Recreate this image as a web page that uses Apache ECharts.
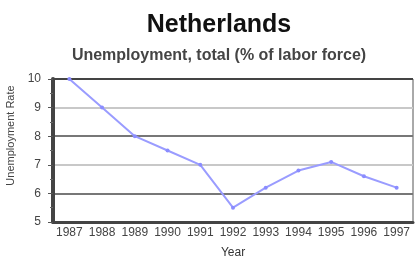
<!DOCTYPE html>
<html>
<head>
<meta charset="utf-8">
<script src="https://cdn.jsdelivr.net/npm/echarts@6/dist/echarts.min.js"></script>
<style>
  html, body { margin: 0; padding: 0; background: #fff; }
  #chart { width: 415px; height: 256px; }
</style>
</head>
<body>
<div id="chart"></div>
<script>
  // ── Data ──
  var years = ['1987', '1988', '1989', '1990', '1991', '1992', '1993', '1994', '1995', '1996', '1997'];
  var unemployment = [10.0, 9.0, 8.0, 7.5, 7.0, 5.5, 6.2, 6.8, 7.1, 6.6, 6.2];
  var yTicks = [5, 6, 7, 8, 9, 10];

  var FONT = 'Liberation Sans, Arial, sans-serif';
  var chart = echarts.init(document.getElementById('chart'), null, { renderer: 'canvas' });

  chart.setOption({
    animation: false,
    textStyle: { fontFamily: FONT },
    title: [
      { text: 'Netherlands', left: 214, top: 8, textAlign: 'center',
        textStyle: { fontSize: 25, fontWeight: 'bold', color: '#111', fontFamily: FONT } },
      { text: 'Unemployment, total (% of labor force)', left: 214, top: 43, textAlign: 'center',
        textStyle: { fontSize: 16, fontWeight: 'bold', color: '#444', fontFamily: FONT } }
    ],
    grid: { left: 53, right: 2, top: 79, bottom: 34, outerBoundsMode: 'none', containLabel: false },
    xAxis: {
      type: 'category',
      data: years,
      boundaryGap: true,
      name: 'Year',
      nameLocation: 'middle',
      nameGap: 25,
      nameTextStyle: { fontSize: 12, color: '#333' },
      axisLine: { lineStyle: { color: '#444', width: 3 } },
      axisTick: { alignWithLabel: true, length: 3, lineStyle: { color: '#999' } },
      axisLabel: { interval: 0, hideOverlap: false, fontSize: 12, color: '#444', margin: 5 }
    },
    yAxis: {
      type: 'value',
      min: yTicks[0],
      max: yTicks[yTicks.length - 1],
      interval: 1,
      name: 'Unemployment Rate',
      nameLocation: 'middle',
      nameGap: 36,
      nameTextStyle: { fontSize: 11, color: '#444', padding: [0, 0, 0, 30] },
      axisLine: { show: true, lineStyle: { color: '#444', width: 4 } },
      axisTick: { show: true, length: 5, lineStyle: { color: '#555' } },
      minorTick: { show: true, splitNumber: 2, length: 3, lineStyle: { color: '#666' } },
      axisLabel: { fontSize: 12, color: '#444', margin: 12 },
      splitLine: { show: true, lineStyle: { color: ['#777', '#777', '#c8c8c8', '#777', '#c8c8c8', '#444'], width: 2 } }
    },
    series: [{
      type: 'line',
      data: unemployment,
      symbol: 'circle',
      symbolSize: 4,
      lineStyle: { color: '#9a9cff', width: 2 },
      itemStyle: { color: '#8a8cff' }
    }],
    graphic: [{
      type: 'rect',
      shape: { x: 53, y: 79, width: 360, height: 143 },
      style: { fill: 'none', stroke: '#555', lineWidth: 1 },
      silent: true
    }]
  });
</script>
</body>
</html>
